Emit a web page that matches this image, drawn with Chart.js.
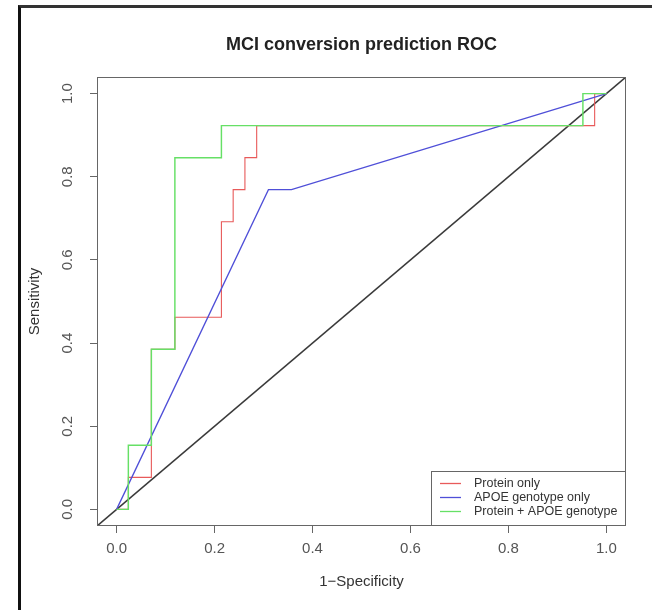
<!DOCTYPE html>
<html><head><meta charset="utf-8">
<script src="https://cdn.jsdelivr.net/npm/chart.js@4.4.1/dist/chart.umd.min.js"></script>
<style>
html,body{margin:0;padding:0;background:#fff;}
#wrap{position:relative;width:652px;height:610px;overflow:hidden;background:#fff;}
#frame{position:absolute;left:18px;top:5px;width:700px;height:700px;border-left:3px solid #111;border-top:3px solid #333;pointer-events:none;}
canvas{position:absolute;left:0;top:0;}
</style></head><body>
<div id="wrap"><canvas id="c" width="652" height="610"></canvas><div id="frame"></div></div>
<script>
// ---- text ----
const chartTitle = 'MCI conversion prediction ROC';
const xTitle = '1\u2212Specificity';
const yTitle = 'Sensitivity';
// ---- axes ----
const tickValues = [0, 0.2, 0.4, 0.6, 0.8, 1.0];
const tickLabels = ['0.0', '0.2', '0.4', '0.6', '0.8', '1.0'];
const axisMin = -0.04;
const axisMax = 1.04;
// ---- series ----
const seriesNames = ['Protein only', 'APOE genotype only', 'Protein + APOE genotype'];
const seriesColors = ['#e85a5a', '#4f4fd8', '#66e066'];
// Protein only (1 - specificity, sensitivity)
const proteinFpr = [0, 0.024, 0.024, 0.071, 0.071, 0.119, 0.119, 0.214, 0.214, 0.238, 0.238, 0.262, 0.262, 0.286, 0.286, 0.976, 0.976, 1.0];
const proteinTpr = [0, 0, 0.077, 0.077, 0.385, 0.385, 0.462, 0.462, 0.692, 0.692, 0.769, 0.769, 0.846, 0.846, 0.923, 0.923, 1.0, 1.0];
// APOE genotype only
const apoeFpr = [0, 0.310, 0.357, 1.0];
const apoeTpr = [0, 0.769, 0.769, 1.0];
// Protein + APOE genotype
const comboFpr = [0, 0.024, 0.024, 0.071, 0.071, 0.119, 0.119, 0.214, 0.214, 0.952, 0.952, 1.0];
const comboTpr = [0, 0, 0.154, 0.154, 0.385, 0.385, 0.846, 0.846, 0.923, 0.923, 1.0, 1.0];
// chance line (identity) spans the axis range
const chanceLine = [axisMin, axisMax];

const toPts = (xs, ys) => xs.map((v, i) => ({x: v, y: ys[i]}));
const FONT = '"Liberation Sans", Arial, Helvetica, sans-serif';

const decor = {
  id: 'decor',
  beforeDraw(chart) {
    const ctx = chart.ctx;
    ctx.save();
    ctx.fillStyle = '#fff';
    ctx.fillRect(0, 0, chart.width, chart.height);
    ctx.restore();
  },
  afterDraw(chart) {
    const {ctx, chartArea: a, scales: {y}} = chart;
    ctx.save();
    // plot box
    ctx.strokeStyle = '#666';
    ctx.lineWidth = 1;
    ctx.strokeRect(a.left + 0.5, a.top + 0.5, a.right - a.left - 1, a.bottom - a.top - 1);
    // title
    ctx.fillStyle = '#222';
    ctx.textAlign = 'center';
    ctx.textBaseline = 'middle';
    ctx.font = 'bold 18px ' + FONT;
    ctx.fillText(chartTitle, (a.left + a.right) / 2, 45);
    // x title
    ctx.fillStyle = '#333';
    ctx.font = '15px ' + FONT;
    ctx.fillText(xTitle, (a.left + a.right) / 2, 582);
    // y title
    ctx.save();
    ctx.translate(35, (a.top + a.bottom) / 2);
    ctx.rotate(-Math.PI / 2);
    ctx.fillText(yTitle, 0, 0);
    ctx.restore();
    // y tick labels (rotated, R style)
    ctx.fillStyle = '#555';
    tickValues.forEach((v, i) => {
      ctx.save();
      ctx.translate(68, y.getPixelForValue(v));
      ctx.rotate(-Math.PI / 2);
      ctx.fillText(tickLabels[i], 0, 0);
      ctx.restore();
    });
    // legend (bottom right, touching plot box)
    const lx = 431, ly = 471;
    ctx.strokeStyle = '#666';
    ctx.lineWidth = 1;
    ctx.strokeRect(lx + 0.5, ly + 0.5, a.right - lx - 1, a.bottom - ly - 1);
    ctx.font = '12.5px ' + FONT;
    ctx.textAlign = 'left';
    seriesNames.forEach((n, i) => {
      const yy = ly + 12.5 + i * 14;
      ctx.strokeStyle = seriesColors[i];
      ctx.lineWidth = 1.3;
      ctx.beginPath();
      ctx.moveTo(440, yy);
      ctx.lineTo(461, yy);
      ctx.stroke();
      ctx.fillStyle = '#333';
      ctx.fillText(n, 474, yy);
    });
    ctx.restore();
  }
};

new Chart(document.getElementById('c'), {
  type: 'scatter',
  data: {
    datasets: [
      {label: seriesNames[2], data: toPts(comboFpr, comboTpr), borderColor: seriesColors[2], borderWidth: 1.45, order: 0},
      {label: seriesNames[1], data: toPts(apoeFpr, apoeTpr), borderColor: seriesColors[1], borderWidth: 1.3, order: 1},
      {label: seriesNames[0], data: toPts(proteinFpr, proteinTpr), borderColor: seriesColors[0], borderWidth: 1.1, order: 2},
      {label: 'chance', data: toPts(chanceLine, chanceLine), borderColor: '#3a3a3a', borderWidth: 1.6, order: 3}
    ].map(d => Object.assign({showLine: true, pointRadius: 0, fill: false, tension: 0}, d))
  },
  options: {
    responsive: false,
    animation: false,
    events: [],
    layout: {padding: {left: 0, top: 77, right: 26, bottom: 0}},
    plugins: {legend: {display: false}, tooltip: {enabled: false}, title: {display: false}},
    scales: {
      x: {
        type: 'linear', min: axisMin, max: axisMax,
        afterBuildTicks: s => { s.ticks = tickValues.map(v => ({value: v})); },
        afterFit: s => { s.height = 84; },
        grid: {drawOnChartArea: false, drawTicks: true, tickLength: 7, color: '#666', lineWidth: 1},
        border: {display: false},
        ticks: {
          padding: 7, color: '#555', font: {size: 15, family: FONT},
          maxRotation: 0, autoSkip: false,
          callback: (v) => { const i = tickValues.findIndex(t => Math.abs(t - v) < 1e-9); return i >= 0 ? tickLabels[i] : ''; }
        }
      },
      y: {
        type: 'linear', min: axisMin, max: axisMax,
        afterBuildTicks: s => { s.ticks = tickValues.map(v => ({value: v})); },
        afterFit: s => { s.width = 97; },
        grid: {drawOnChartArea: false, drawTicks: true, tickLength: 7, color: '#666', lineWidth: 1},
        border: {display: false},
        ticks: {display: false}
      }
    }
  },
  plugins: [decor]
});
</script>
</body></html>
